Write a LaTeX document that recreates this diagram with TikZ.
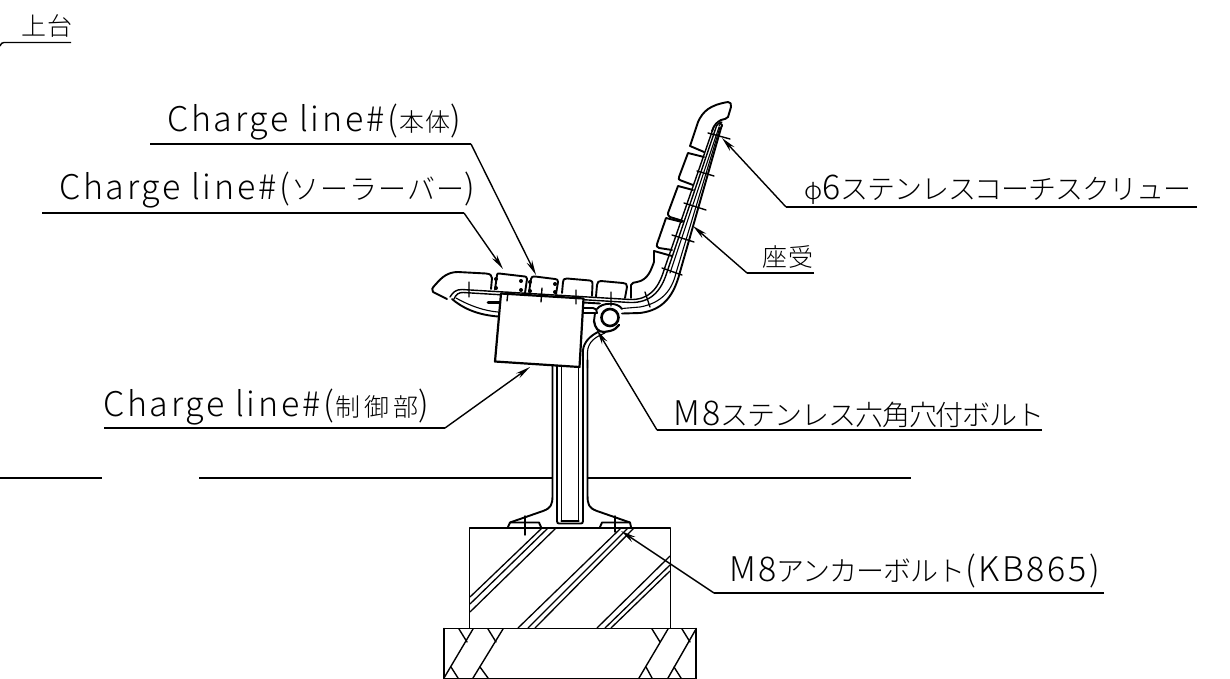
\documentclass[tikz,border=0pt]{standalone}
\usepackage{fontspec}
\setmainfont{Noto Sans CJK JP}[UprightFont=* Light]
\usetikzlibrary{arrows.meta}
\newcommand{\lat}[1]{{\fontsize{34}{34}\selectfont\addfontfeatures{LetterSpace=8}#1}}
\newcommand{\jp}[2][-4]{{\fontsize{28}{28}\selectfont\addfontfeatures{LetterSpace=#1}#2}}
\newcommand{\kj}[2][4]{{\fontsize{25}{25}\selectfont\addfontfeatures{LetterSpace=#1}#2}}
\tikzset{
 ln/.style={line width=1.1pt,line join=round,line cap=round},
 th/.style={line width=1.9pt,line join=round,line cap=round},
 hv/.style={line width=3pt,line cap=round},
 ldr/.style={line width=1.4pt},
 ldra/.style={line width=1.4pt,{Stealth[length=15pt,width=6pt]}-},
 lbl/.style={inner sep=0pt,anchor=base west}
}
\begin{document}
\begin{tikzpicture}[x=1pt,y=-1pt]
\useasboundingbox (0,0) rectangle (1230,679);
% ---- ground lines
\draw[ldr,line width=1.6pt] (0,478)--(102,478) (199,478)--(552,478) (588,478)--(911,478);
% ---- foundation
\draw[th] (469.5,528) rectangle (670.5,628.5);
\draw[ln,line width=1.3pt] (470,597)--(542,528) (470,604)--(548,528) (470,612)--(556,528);
\draw[ln,line width=1.3pt] (518,628)--(621,528) (528,628)--(628,528) (535,628)--(634,528);
\draw[ln,line width=1.3pt] (597,628)--(670,556) (605,628)--(670,565) (611,628)--(670,571);
\draw[th] (444,628.5)--(696,628.5);
\draw[ln,line width=1.5pt] (444,628.5)--(444,679) (696,628.5)--(696,679);
\draw[ln,line width=1.4pt] (444,679)--(696,679);
\draw[ln,line width=1.4pt] (444,678)--(473,629) (473,678)--(503,629)
  (639,678)--(668,629) (668,678)--(696,629);
\draw[ln,line width=1.4pt] (459,629)--(467,642) (488,629)--(496,642) (652,629)--(660,642) (682,629)--(690,642)
  (451,667)--(458,678) (480,667)--(488,678) (646,667)--(652,678) (674,667)--(681,678);
% ---- post
\draw[th] (552.5,366)--(552.5,495) .. controls (552.5,505) and (551,508) .. (543,511) -- (510,522.5) -- (508,527);
\draw[th] (510,522.5)--(539,522.5)--(541,527);
\draw[th] (587.5,360)--(587.5,495) .. controls (587.5,505) and (589,508) .. (597,511) -- (630,522.5) -- (631,527);
\draw[th] (600,527)--(602,522.5)--(630,522.5);
\draw[th] (557,366)--(557,521) .. controls (557,523) and (558,523.5) .. (559,523.5) -- (581,523.5) .. controls (582,523.5) and (583,523) .. (583,521) -- (583,355);
\draw[th] (561.5,366)--(561.5,521) (578.5,367)--(578.5,521);
\draw[th,line width=2.5pt] (561.5,521)--(578.5,521);
\draw[ln,line width=1.4pt] (525,516)--(525,535) (615,516)--(615,532);
% ---- seat pads
\draw[th] (447,299) -- (433,292) .. controls (431,290) and (432,288) .. (436,284) .. controls (442,277) and (448,272) .. (458,272) -- (486,273.5) .. controls (490,274) and (492,275) .. (492,278) -- (491,289);
\draw[th] (495,289.5) -- (497,275) .. controls (497,274) and (498,273) .. (499,273.5) -- (525,276.5) .. controls (526,277) and (527,277) .. (527,279) -- (525,293);
\draw[th] (529,292) -- (531,279) .. controls (531,277) and (533,276) .. (535,276.5) -- (555,279) .. controls (557,279) and (558,280) .. (558,282) -- (556,294);
\draw[th] (562,293) -- (563,282) .. controls (563,280) and (564,278) .. (567,278.5) -- (590,280.5) .. controls (592,281) and (593,282) .. (592.5,284) -- (592,296);
\draw[th] (596,296.5) -- (597,285) .. controls (597,282) and (599,281) .. (601,281) -- (623,283) .. controls (626,283) and (627,284) .. (627,287) -- (625,298);
\draw[th] (631,298) -- (631,285) .. controls (632,283) and (634,282) .. (637,282) .. controls (648,280) and (651,270) .. (654,262) -- (654,251) -- (672,256);
% seat dots
\foreach \p in {(496,279),(496,288),(521,281),(521,290),(530,282),(530,291),(555,284),(555,292)}
  \fill \p circle (2pt);
% ---- back pads
\draw[th] (690,146) -- (698,122) .. controls (703,111) and (710,105) .. (728,102) .. controls (731,102) and (731,104) .. (731,107) -- (728,117) .. controls (727,119) and (724,119) .. (721,120) .. controls (717,122) and (714,125) .. (712,131);
\draw[th] (690,146) -- (704,152);
\draw[th] (688,153) -- (704,157) (688,153) -- (679,177) .. controls (678,179) and (679,180) .. (681,180.5) -- (693,185);
\draw[th] (678,186) -- (693,190) (678,186) -- (668,213) .. controls (668,215) and (668,216) .. (670,217) -- (683,221);
\draw[th] (666,218) -- (682,222) (666,218) -- (657,244) .. controls (656,246) and (657,247) .. (659,248) -- (672,250);
% ---- frame
\draw[ln,line width=1.4pt] (450,297) .. controls (453,292) and (456,289.5) .. (462,289.5) -- (630,299.5) .. controls (648,300) and (658,290) .. (664,270) -- (714,126);
\draw[ln,line width=1.4pt] (454,299) .. controls (456,294) and (459,292.5) .. (463,292.5) -- (630,302.5) .. controls (650,303) and (661,292) .. (667,272) -- (716.5,126) .. controls (717,125) and (719,123) .. (721,122);
\draw[ln] (670,273) -- (719,127);
\draw[ln] (719,126) .. controls (720,124) and (721,123) .. (722,122);
\draw[th] (721,124) .. controls (723,124) and (722,126) .. (721,128) -- (680,272) .. controls (674,295) and (664,310) .. (640,313) -- (622,313.5);
\draw[ln] (676,273) -- (720,127);
\draw[ln] (676,273) .. controls (672,290) and (662,303) .. (640,307) -- (622,308.5);
\draw[th] (452,299) .. controls (465,310) and (480,315) .. (498,316.5);
\draw[ln] (456,298) .. controls (470,306) and (485,311) .. (498,312);
\draw[hv] (488,302)--(500,302);
\draw[th] (583,302.5)--(600,303.5);
\draw[th] (583,308)--(593,308) .. controls (596,308) and (597,310) .. (597,313) -- (596,313) (583,313)--(595,313) -- (594,321);
% ---- pivot
\draw[th,line width=2.2pt] (594,321) .. controls (595,328) and (598,332) .. (604,332) -- (610,331) .. controls (614,330) and (617,328) .. (619,325);
\draw[th] (597,309) .. controls (602,302) and (618,302) .. (622,309);
\draw[th] (583,368) -- (583,350) .. controls (584,342) and (590,336) .. (598,332);
\draw[ln] (587.5,368) -- (587.5,352) .. controls (588,342) and (595,337) .. (605,333);
\draw[hv,line width=2.6pt,fill=white] (610,317.5) circle (8.5);
% ---- control box
\draw[th,line width=2.2pt,fill=white] (501,293.5) -- (583.5,298.5) -- (579.5,367) -- (495,361.5) -- cycle;
% ---- bolts seat
\draw[ln,line width=1.4pt] (469,282)--(469,297) (508,292)--(507,301) (542,288)--(541,302) (576,290)--(576,304) (611,292)--(611,306);
\draw[ln,line width=1.4pt] (645,292)--(650,307);
% ---- bolts back
\draw[ln,line width=1.4pt] (708,133)--(730,139) (697,171)--(714,176) (684,203)--(706,210) (672,235)--(694,242) (662,268)--(682,275);
% ---- leaders
\coordinate (a1) at (536,275);
\coordinate (a1b) at (471,144);
\coordinate (a1c) at (150,144);
\draw[ldr] (a1c)--(a1b);
\draw[ldra] (a1)--(a1b);
\coordinate (a2) at (503,269);
\coordinate (a2b) at (464,213);
\coordinate (a2c) at (42,213);
\draw[ldr] (a2c)--(a2b);
\draw[ldra] (a2)--(a2b);
\coordinate (a3) at (530,367);
\coordinate (a3b) at (445,428);
\coordinate (a3c) at (104,428);
\draw[ldr] (a3c)--(a3b);
\draw[ldra] (a3)--(a3b);
\coordinate (a4) at (597,330);
\coordinate (a4b) at (657,430);
\coordinate (a4c) at (1042,430);
\draw[ldr] (a4c)--(a4b);
\draw[ldra] (a4)--(a4b);
\coordinate (a5) at (722,138);
\coordinate (a5b) at (786,207);
\coordinate (a5c) at (1197,207);
\draw[ldr] (a5c)--(a5b);
\draw[ldra] (a5)--(a5b);
\coordinate (a6) at (693,226);
\coordinate (a6b) at (747,273);
\coordinate (a6c) at (814,273);
\draw[ldr] (a6c)--(a6b);
\draw[ldra] (a6)--(a6b);
\coordinate (a7) at (621,531);
\coordinate (a7b) at (714,593);
\coordinate (a7c) at (1104,593);
\draw[ldr] (a7c)--(a7b);
\draw[ldra] (a7)--(a7b);
\draw[ldr] (0,46) .. controls (1,43.5) and (2,42.5) .. (4,42.5) -- (71,42.5);
% ---- labels
\node[lbl] (t0) at (21,36) {\kj{上台}};
\node[lbl] (t1) at (167,132) {\lat{Charge line\#(}\,\kj{本体}\lat{)}};
\node[lbl] (t2) at (59,200) {\lat{Charge line\#(}\,\jp[4]{ソーラーバー}\lat{)}};
\node[lbl] (t3) at (103,416) {\lat{Charge line\#(}\,\kj[16]{制御部}\lat{)}};
\node[lbl] (t4) at (673,425) {\lat{M8}\jp{ステンレス六角穴付ボルト}};
\node[lbl] (t5) at (804,199) {\kj[0]{φ}\lat{6}\jp{ステンレスコーチスクリュー}};
\node[lbl] (t6) at (762,266) {\kj{座受}};
\node[lbl] (t7) at (729,581) {\lat{M8}\jp{アンカーボルト}\lat{(KB865)}};
\end{tikzpicture}
\end{document}
